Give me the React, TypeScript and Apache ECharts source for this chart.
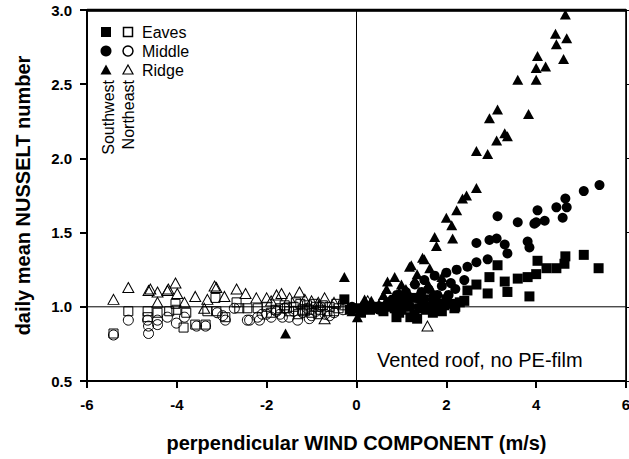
import React, { useEffect, useRef } from "react";
import * as echarts from "echarts";

const xTicks = [-6, -4, -2, 0, 2, 4, 6];
const yTicks = [0.5, 1.0, 1.5, 2.0, 2.5, 3.0];
const refY = 1.0;
const refX = 0;

// Southwest (filled)
const swEaves: number[][] = [
  [5.39, 1.26], [5.06, 1.35], [4.65, 1.34], [4.63, 1.29], [4.45, 1.26], [4.23, 1.26], [4.03, 1.31],
  [4.0, 1.22], [3.81, 1.2], [3.59, 1.19], [3.85, 1.07], [3.36, 1.1], [3.3, 1.17], [3.14, 1.28],
  [2.96, 1.2], [2.92, 1.09], [2.67, 1.15], [2.47, 1.11], [2.4, 1.04], [2.18, 0.99], [2.14, 1.02],
  [1.29, 0.95], [0.89, 0.93], [-0.27, 1.05], [0.02, 0.99], [0.5, 1.0], [0.6, 0.97], [0.8, 1.02],
  [1.0, 0.98], [1.1, 1.03], [1.2, 0.93], [1.4, 0.99], [1.5, 1.05], [1.6, 1.0], [1.8, 1.02],
  [1.9, 0.97], [2.0, 1.05], [0.3, 0.98], [0.2, 1.0], [-0.15, 0.98], [1.35, 0.92], [0.95, 0.96],
  [1.7, 0.96], [2.2, 1.0], [0.1, 0.96], [0.7, 1.0], [1.25, 1.06], [1.05, 1.0], [0.85, 0.99],
  [1.55, 0.98], [1.95, 1.01], [2.3, 1.03],
];
const swMiddle: number[][] = [
  [5.41, 1.82], [5.06, 1.78], [4.65, 1.73], [4.45, 1.67], [4.68, 1.67], [4.59, 1.6], [4.03, 1.65],
  [4.19, 1.58], [4.0, 1.57], [3.59, 1.57], [3.96, 1.56], [3.14, 1.61], [3.81, 1.44], [3.85, 1.4],
  [3.3, 1.42], [3.36, 1.36], [3.12, 1.46], [2.96, 1.45], [2.67, 1.43], [2.92, 1.32], [2.67, 1.3],
  [2.47, 1.27], [2.23, 1.25], [2.0, 1.23], [1.74, 1.21], [1.51, 1.18], [1.3, 1.15], [1.1, 1.1],
  [0.9, 1.08], [1.6, 1.12], [1.9, 1.14], [2.1, 1.16], [0.7, 1.03], [1.4, 1.05], [1.2, 1.0],
  [0.5, 0.98], [0.1, 0.97], [-0.1, 1.0], [2.2, 1.12], [1.8, 1.08], [2.4, 1.18], [1.0, 1.04],
  [1.45, 1.1], [1.7, 1.05], [0.8, 1.05], [2.05, 1.08], [1.15, 1.07],
];
const swRidge: number[][] = [
  [4.65, 2.97], [4.43, 2.84], [4.68, 2.81], [4.45, 2.77], [4.03, 2.69], [4.61, 2.67], [4.0, 2.61],
  [4.21, 2.62], [3.59, 2.53], [4.0, 2.53], [3.14, 2.33], [2.96, 2.27], [3.83, 2.3], [3.3, 2.17],
  [3.36, 2.15], [3.12, 2.12], [2.67, 2.05], [2.92, 2.03], [2.67, 1.8], [2.45, 1.75], [2.36, 1.73],
  [2.23, 1.65], [2.0, 1.6], [2.12, 1.55], [2.14, 1.46], [1.74, 1.47], [1.78, 1.41], [1.47, 1.33],
  [1.51, 1.32], [1.22, 1.28], [1.18, 1.27], [1.63, 1.26], [0.85, 1.2], [0.69, 1.17], [0.67, 1.12],
  [-0.27, 1.2], [0.18, 1.05], [0.33, 1.04], [0.02, 0.93], [-1.58, 0.82], [1.0, 1.15], [1.1, 1.12],
  [1.3, 1.18], [1.4, 1.1], [0.6, 1.08], [0.9, 1.05], [1.6, 1.15], [1.9, 1.2], [0.5, 1.02],
  [1.2, 1.02], [-0.1, 0.97], [1.35, 1.22], [0.95, 1.1], [1.7, 1.1],
];

// Northeast (open)
const neEaves: number[][] = [
  [-5.41, 0.82], [-5.08, 0.97], [-4.65, 0.97], [-4.65, 0.93], [-4.43, 0.96], [-4.17, 0.97],
  [-4.03, 1.02], [-4.01, 0.98], [-3.85, 0.86], [-3.79, 0.96], [-3.59, 0.88], [-3.36, 0.88],
  [-3.32, 0.97], [-3.14, 1.06], [-3.12, 0.97], [-2.92, 0.93], [-2.67, 1.03], [-2.61, 0.99],
  [-2.43, 0.99], [-2.2, 0.99], [-2.0, 1.0], [-1.8, 0.98], [-1.6, 1.01], [-1.5, 0.97], [-1.4, 1.0],
  [-1.2, 0.98], [-1.1, 1.01], [-1.0, 0.96], [-0.9, 1.0], [-0.8, 0.98], [-0.6, 1.0], [-0.5, 0.97],
  [-0.4, 0.99], [-0.3, 1.01], [-1.3, 0.95], [-1.7, 0.99], [-1.9, 0.96], [-1.25, 1.02], [-1.05, 0.98],
  [-0.95, 1.02], [-0.75, 1.01], [-0.65, 0.97], [0.25, 1.0], [-1.15, 0.97], [-0.85, 0.95],
  [-1.35, 1.03], [-1.55, 0.99], [-0.45, 1.02],
];
const neMiddle: number[][] = [
  [-5.41, 0.81], [-5.08, 0.91], [-4.65, 0.91], [-4.63, 0.82], [-4.63, 0.87], [-4.43, 0.91],
  [-4.43, 0.88], [-4.21, 0.93], [-4.01, 0.89], [-3.83, 0.93], [-3.56, 0.87], [-3.36, 0.87],
  [-3.1, 0.96], [-2.98, 0.94], [-2.92, 0.91], [-2.72, 0.99], [-2.43, 0.91], [-2.38, 0.91],
  [-2.16, 0.91], [-2.0, 0.95], [-1.78, 0.97], [-1.31, 0.91], [-1.9, 0.93], [-1.7, 0.95],
  [-1.6, 0.99], [-1.5, 0.93], [-1.2, 0.96], [-1.0, 0.94], [-0.9, 0.97], [-0.7, 0.95], [-0.5, 0.96],
  [-0.3, 0.98], [-2.1, 0.95], [-2.2, 0.93], [-1.1, 0.99], [-0.8, 1.0], [-1.4, 0.97], [-1.65, 0.93],
  [-1.05, 0.92], [-0.6, 0.94],
];
const neRidge: number[][] = [
  [-5.41, 1.05], [-5.08, 1.13], [-4.63, 1.11], [-4.59, 1.12], [-4.43, 1.1], [-4.43, 1.03],
  [-4.19, 1.12], [-4.03, 1.16], [-3.99, 1.09], [-3.83, 1.03], [-3.59, 1.07], [-3.32, 1.05],
  [-3.39, 0.99], [-3.12, 1.13], [-2.94, 1.07], [-2.67, 1.12], [-2.47, 1.09], [-2.23, 1.06],
  [-2.0, 1.06], [-1.78, 1.08], [-1.67, 1.09], [-1.27, 1.1], [-1.49, 1.06], [-0.71, 1.06],
  [-0.71, 0.92], [1.58, 0.87], [-1.9, 1.04], [-1.0, 1.04], [-0.5, 1.03], [0.25, 1.04],
  [-4.21, 1.11], [-3.16, 1.14], [-1.15, 1.05], [-0.85, 1.03],
];

const FONT = "'Liberation Sans', Arial, sans-serif";

export default function App() {
  const ref = useRef<HTMLDivElement>(null);
  useEffect(() => {
    if (!ref.current) return;
    const chart = echarts.init(ref.current, undefined, { renderer: "svg" });
    const open = { color: "rgba(255,255,255,0)", borderColor: "#000", borderWidth: 1, opacity: 1 };
    const filled = { color: "#000", opacity: 1 };
    const xMin = xTicks[0];
    const xMax = xTicks[xTicks.length - 1];
    const yMin = yTicks[0];
    const yMax = yTicks[yTicks.length - 1];
    const lineBase = { type: "line", symbol: "none", silent: true, animation: false, clip: false };
    chart.setOption({
      animation: false,
      textStyle: { fontFamily: FONT },
      grid: { left: 87, right: 3, top: 10, bottom: 78, show: true, borderColor: "#000", borderWidth: 1, outerBoundsMode: "none" },
      xAxis: [
        {
          type: "value",
          min: xMin,
          max: xMax,
          interval: 2,
          position: "bottom",
          name: "perpendicular WIND COMPONENT (m/s)",
          nameLocation: "middle",
          nameGap: 52,
          nameTextStyle: { fontSize: 20, fontWeight: "bold", color: "#000", fontFamily: FONT },
          axisLine: { show: true, onZero: false, lineStyle: { color: "#000", width: 2 } },
          axisTick: { show: true, length: 7, lineStyle: { color: "#000", width: 2 } },
          axisLabel: {
            show: true,
            margin: 16,
            fontSize: 15,
            fontWeight: "bold",
            color: "#000",
            fontFamily: FONT,
            formatter: (v: number) => (xTicks.includes(v) ? String(v) : ""),
          },
          splitLine: { show: false },
        },
        {
          type: "value",
          min: xMin,
          max: xMax,
          interval: 2,
          position: "top",
          axisLine: { show: true, onZero: false, lineStyle: { color: "#000", width: 2.5 } },
          axisTick: { show: false },
          axisLabel: { show: false },
          splitLine: { show: false },
        },
      ],
      yAxis: [
        {
          type: "value",
          min: yMin,
          max: yMax,
          interval: 0.5,
          position: "left",
          name: "daily mean NUSSELT number",
          nameLocation: "middle",
          nameGap: 54,
          nameTextStyle: { fontSize: 20, fontWeight: "bold", color: "#000", fontFamily: FONT },
          axisLine: { show: true, onZero: false, lineStyle: { color: "#000", width: 2 } },
          axisTick: { show: true, length: 7, lineStyle: { color: "#000", width: 2 } },
          axisLabel: {
            show: true,
            margin: 15,
            fontSize: 15,
            fontWeight: "bold",
            color: "#000",
            fontFamily: FONT,
            formatter: (v: number) => (yTicks.some((t) => Math.abs(t - v) < 1e-9) ? v.toFixed(1) : ""),
          },
          splitLine: { show: false },
        },
        {
          type: "value",
          min: yMin,
          max: yMax,
          interval: 0.5,
          position: "right",
          axisLine: { show: true, onZero: false, lineStyle: { color: "#000", width: 1 } },
          axisTick: { show: true, length: 6, lineStyle: { color: "#000", width: 1 } },
          axisLabel: { show: false },
          splitLine: { show: false },
        },
      ],
      series: [
        { ...lineBase, name: "refH", data: [[xMin, refY], [xMax, refY]], lineStyle: { color: "#000", width: 1 } },
        { ...lineBase, name: "refV", data: [[refX, yMin], [refX, yMax]], lineStyle: { color: "#000", width: 1 } },
        { ...lineBase, name: "frameTop", data: [[xMin, yMax], [xMax, yMax]], lineStyle: { color: "#000", width: 2.5 } },
        { ...lineBase, name: "frameRight", data: [[xMax, yMin], [xMax, yMax]], lineStyle: { color: "#000", width: 1.2 } },
        { name: "NE Eaves", type: "scatter", data: neEaves, symbol: "rect", symbolSize: 9, itemStyle: open },
        { name: "NE Middle", type: "scatter", data: neMiddle, symbol: "circle", symbolSize: 10, itemStyle: open },
        { name: "NE Ridge", type: "scatter", data: neRidge, symbol: "triangle", symbolSize: [11, 10], itemStyle: open },
        { name: "SW Eaves", type: "scatter", data: swEaves, symbol: "rect", symbolSize: 10, itemStyle: filled },
        { name: "SW Middle", type: "scatter", data: swMiddle, symbol: "circle", symbolSize: 10, itemStyle: filled },
        { name: "SW Ridge", type: "scatter", data: swRidge, symbol: "triangle", symbolSize: [11, 10], itemStyle: filled },
      ],
      graphic: [
        { type: "rect", shape: { x: 101, y: 27, width: 10, height: 10 }, style: { fill: "#000" } },
        { type: "rect", shape: { x: 123.5, y: 27.5, width: 9, height: 9 }, style: { fill: "none", stroke: "#000", lineWidth: 1.5 } },
        { type: "text", x: 142, y: 32, style: { text: "Eaves", fontSize: 16, fontFamily: FONT, fill: "#000", textVerticalAlign: "middle" } },
        { type: "circle", shape: { cx: 106, cy: 51, r: 5.5 }, style: { fill: "#000" } },
        { type: "circle", shape: { cx: 128, cy: 51, r: 5 }, style: { fill: "none", stroke: "#000", lineWidth: 1.5 } },
        { type: "text", x: 142, y: 51, style: { text: "Middle", fontSize: 16, fontFamily: FONT, fill: "#000", textVerticalAlign: "middle" } },
        { type: "polygon", shape: { points: [[106, 64.5], [111.5, 74.5], [100.5, 74.5]] }, style: { fill: "#000" } },
        { type: "polygon", shape: { points: [[128, 65], [133, 74], [123, 74]] }, style: { fill: "none", stroke: "#000", lineWidth: 1.2 } },
        { type: "text", x: 142, y: 70, style: { text: "Ridge", fontSize: 16, fontFamily: FONT, fill: "#000", textVerticalAlign: "middle" } },
        { type: "text", x: 108, y: 80, rotation: Math.PI / 2, style: { text: "Southwest", fontSize: 16, fontFamily: FONT, fill: "#000", textAlign: "right", textVerticalAlign: "middle" } },
        { type: "text", x: 128, y: 80, rotation: Math.PI / 2, style: { text: "Northeast", fontSize: 16, fontFamily: FONT, fill: "#000", textAlign: "right", textVerticalAlign: "middle" } },
        { type: "text", x: 377, y: 360, style: { text: "Vented roof, no PE-film", fontSize: 20, fontFamily: FONT, fill: "#000", textVerticalAlign: "middle" } },
      ],
    });
    return () => chart.dispose();
  }, []);
  return <div ref={ref} style={{ width: 629, height: 459, position: "absolute", left: 0, top: 0 }} />;
}
